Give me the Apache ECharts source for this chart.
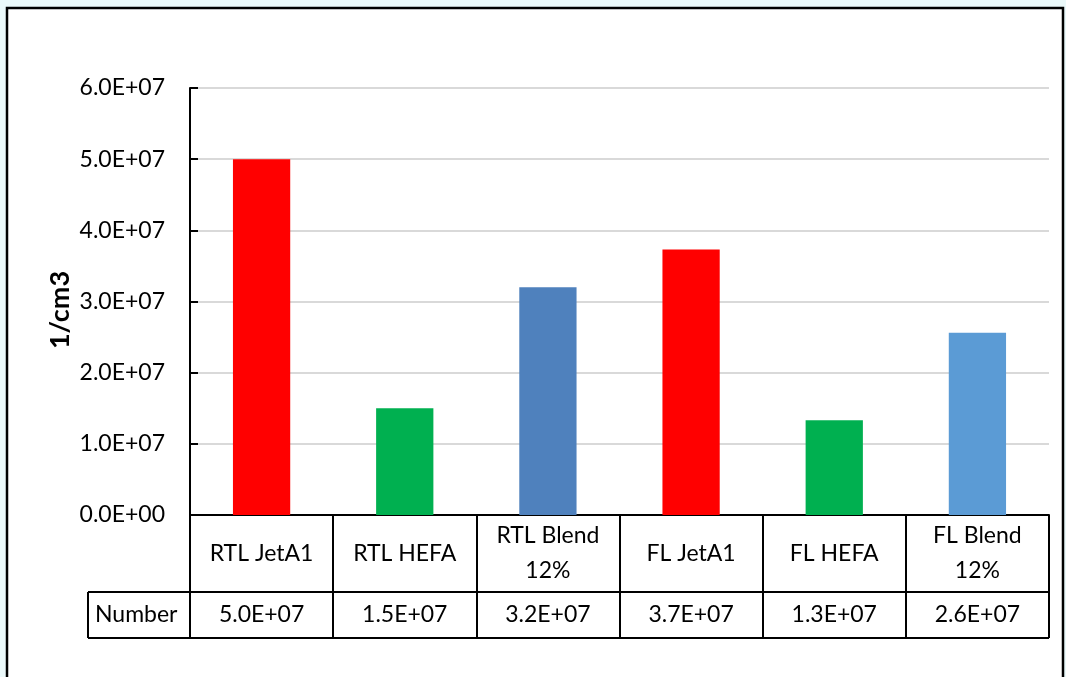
<!DOCTYPE html>
<html>
<head>
<meta charset="utf-8">
<script src="https://cdn.jsdelivr.net/npm/echarts@6/dist/echarts.min.js"></script>
<style>
  html, body { margin: 0; padding: 0; background: #ebf9fa; }
  #chart { width: 1066px; height: 677px; }
</style>
</head>
<body>
<div id="chart"></div>
<script>
// Particle number concentration per fuel / combustor case
const categories = ['RTL JetA1', 'RTL HEFA', 'RTL Blend\n12%', 'FL JetA1', 'FL HEFA', 'FL Blend\n12%'];
const numberValues = [50.0e6, 15.0e6, 32.0e6, 37.3e6, 13.3e6, 25.6e6];
const barColors = ['#ff0000', '#00b050', '#4f81bd', '#ff0000', '#00b050', '#5b9bd5'];
const yTicks = [0, 1e7, 2e7, 3e7, 4e7, 5e7, 6e7];
const rowTitle = 'Number';
const yTitle = '1/cm3';

const FONT = 'Lato, "Open Sans", "Noto Sans", sans-serif';
const FS = 23;

// Excel-style scientific format: 5.0E+07
function sci(v) {
  const s = Number(v).toExponential(1);
  const [m, e] = s.split('e');
  const n = Math.abs(parseInt(e, 10));
  return m + 'E' + (e[0] === '-' ? '-' : '+') + String(n).padStart(2, '0');
}

// Plot and data-table geometry
const W = 1066, H = 677;
const G = { left: 190, right: 17, top: 88, bottom: 162 };
const catRowH = 77;    // category-name row height
const numRowH = 46;    // value row height
const rowTitleW = 102; // width of the "Number" header cell
const axisY = H - G.bottom;
const gridRight = W - G.right;
const numTop = axisY + catRowH;
const numBottom = numTop + numRowH;
const tableLeft = G.left - rowTitleW;

const chart = echarts.init(document.getElementById('chart'), null, { renderer: 'canvas' });

const tableLine = { show: true, lineStyle: { color: '#000', width: 2 } };

chart.setOption({
  backgroundColor: 'transparent',
  animation: false,
  textStyle: { fontFamily: FONT },
  grid: { left: G.left, right: G.right, top: G.top, bottom: G.bottom, containLabel: false },
  graphic: [
    // outer chart frame
    { type: 'rect', z: -10, silent: true,
      shape: { x: 7, y: 8, width: 1056, height: 720 },
      style: { fill: '#ffffff', stroke: '#000', lineWidth: 2.5 } },
    // header cell of the value row
    { type: 'line', silent: true, shape: { x1: tableLeft, y1: numTop, x2: G.left, y2: numTop },
      style: { stroke: '#000', lineWidth: 2 } },
    { type: 'line', silent: true, shape: { x1: tableLeft, y1: numBottom, x2: gridRight, y2: numBottom },
      style: { stroke: '#000', lineWidth: 2 } },
    { type: 'line', silent: true, shape: { x1: tableLeft, y1: numTop, x2: tableLeft, y2: numBottom },
      style: { stroke: '#000', lineWidth: 2 } },
    { type: 'text', silent: true, x: tableLeft + 7, y: numTop + numRowH / 2,
      style: { text: rowTitle, font: FS + 'px ' + FONT, fill: '#000', verticalAlign: 'middle', align: 'left' } },
    // y-axis title
    { type: 'text', silent: true, x: 60, y: 310, rotation: Math.PI / 2,
      style: { text: yTitle, font: 'bold 27px ' + FONT, fill: '#000', align: 'center', verticalAlign: 'middle' } }
  ],
  xAxis: [
    {
      type: 'category',
      data: categories,
      position: 'bottom',
      axisLine: tableLine,
      axisTick: { show: true, interval: 0, length: catRowH + numRowH, lineStyle: { color: '#000', width: 2 } },
      axisLabel: { interval: 0, margin: catRowH / 2, verticalAlign: 'middle', lineHeight: 35,
                   fontSize: FS, color: '#000', fontFamily: FONT },
      splitLine: { show: false }
    },
    {
      type: 'category',
      data: numberValues.map(sci),
      position: 'bottom',
      offset: catRowH,
      axisLine: tableLine,
      axisTick: { show: true, interval: 0, length: numRowH, lineStyle: { color: '#000', width: 2 } },
      axisLabel: { interval: 0, margin: numRowH / 2, verticalAlign: 'middle',
                   fontSize: FS, color: '#000', fontFamily: FONT },
      splitLine: { show: false }
    }
  ],
  yAxis: {
    type: 'value',
    min: yTicks[0],
    max: yTicks[yTicks.length - 1],
    interval: yTicks[1] - yTicks[0],
    axisLine: { show: true, lineStyle: { color: '#000', width: 2 } },
    axisTick: { show: true, inside: true, length: 8, lineStyle: { color: '#000', width: 2 } },
    axisLabel: { margin: 25, fontSize: FS, color: '#000', fontFamily: FONT, formatter: sci },
    splitLine: { show: true, lineStyle: { color: '#d9d9d9', width: 2 } }
  },
  series: [{
    type: 'bar',
    xAxisIndex: 0,
    barWidth: '40%',
    data: numberValues.map((v, i) => ({ value: v, itemStyle: { color: barColors[i] } }))
  }]
});
</script>
</body>
</html>
